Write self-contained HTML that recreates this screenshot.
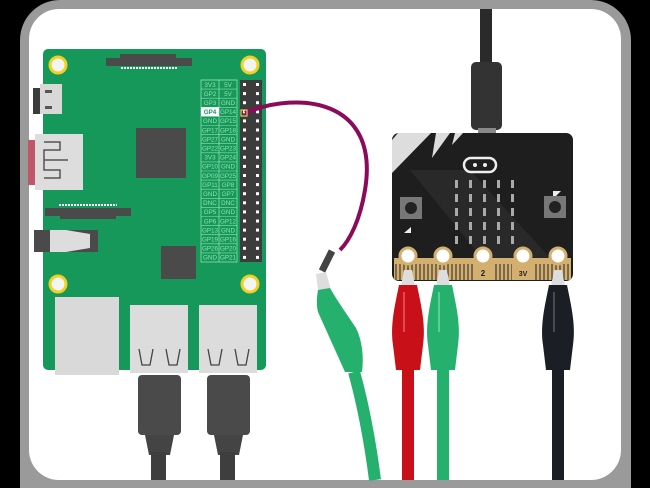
<!DOCTYPE html>
<html><head><style>html,body{margin:0;padding:0;background:#000;width:650px;height:488px;overflow:hidden}svg{display:block}</style></head>
<body>
<svg width="650" height="488" viewBox="0 0 650 488" xmlns="http://www.w3.org/2000/svg" font-family="Liberation Sans, sans-serif">
<rect width="650" height="488" fill="#000"/>
<rect x="20" y="0" width="611" height="488" rx="40" fill="#9a9a9a"/>
<rect x="20" y="440" width="611" height="48" fill="#9a9a9a"/>
<rect x="29" y="9" width="592" height="471" rx="30" fill="#fff"/>
<!-- board -->
<rect x="43" y="49" width="223" height="321" rx="5" fill="#16985a"/>
<!-- Pi side connectors -->
<rect x="33" y="88" width="12" height="26" fill="#3c3c3c"/>
<rect x="40" y="84" width="22" height="30" fill="#d8d8d8"/>
<rect x="45" y="90" width="7" height="3" fill="#555"/><rect x="45" y="106" width="7" height="3" fill="#555"/>
<rect x="28" y="140" width="12" height="45" fill="#c0566a"/>
<rect x="35" y="134" width="48" height="56" fill="#ddd"/>
<path d="M44 142h16v8h-16v10h24M44 160v10h16v8h-16" fill="none" stroke="#555" stroke-width="1.5"/>
<rect x="106" y="58" width="86" height="8" fill="#4a4a4a"/>
<rect x="120" y="54" width="56" height="4" fill="#4a4a4a"/>
<line x1="121" y1="68" x2="177" y2="68" stroke="#fff" stroke-width="2" stroke-dasharray="2 1"/>
<rect x="45" y="208" width="86" height="8" fill="#4a4a4a"/>
<rect x="60" y="215" width="56" height="4" fill="#4a4a4a"/>
<line x1="59" y1="205" x2="117" y2="205" stroke="#fff" stroke-width="2" stroke-dasharray="2 1"/>
<rect x="34" y="230" width="64" height="22" fill="#4a4a4a"/>
<path d="M50 230h16l24 4v14l-24 4h-16z" fill="#ddd"/>
<rect x="136" y="128" width="50" height="50" fill="#4a4a4a"/>
<rect x="161" y="246" width="35" height="33" fill="#4a4a4a"/>
<g fill="#f4f4f4" stroke="#f0d020" stroke-width="3">
<circle cx="58" cy="65" r="8"/><circle cx="250" cy="65" r="8"/><circle cx="58" cy="284" r="8"/><circle cx="250" cy="284" r="8"/></g>
<!-- header -->
<rect x="240" y="80" width="22" height="182" fill="#3c3c3c"/>
<g fill="#fff" id="pins"></g>
<rect x="201" y="80" width="36" height="182" fill="none" stroke="#8fe0b0" stroke-width="0.8"/>
<line x1="219" y1="80" x2="219" y2="262" stroke="#8fe0b0" stroke-width="0.8"/>
<g id="hdr" font-size="6.3" text-anchor="middle" fill="#8fe0b0"></g>
<!-- Pi USB / ethernet -->
<rect x="55" y="297" width="64" height="78" fill="#d9d9d9"/>
<rect x="130" y="305" width="58" height="68" fill="#dcdcdc"/>
<rect x="199" y="305" width="58" height="68" fill="#dcdcdc"/>
<path d="M139 349l3 16h8l3-16M166 349l3 16h8l3-16M208 349l3 16h8l3-16M235 349l3 16h8l3-16" fill="none" stroke="#444" stroke-width="1.3"/>
<rect x="138" y="375" width="43" height="60" rx="4" fill="#4a4a4a"/>
<rect x="207" y="375" width="43" height="60" rx="4" fill="#4a4a4a"/>
<path d="M145 435h29l-4 20h-21z M214 435h29l-4 20h-21z" fill="#444"/>
<rect x="151" y="452" width="15" height="28" fill="#3e3e3e"/>
<rect x="220" y="452" width="15" height="28" fill="#3e3e3e"/>
<!-- purple jumper -->
<path d="M245 113 C 300 90, 380 100, 365 190 C 360 220, 350 240, 340 250" fill="none" stroke="#8b0a5a" stroke-width="4"/>
<rect x="241" y="110" width="6" height="6" fill="none" stroke="#f0c060" stroke-width="1.2"/>
<!-- microbit usb cable -->
<rect x="480" y="9" width="12" height="56" fill="#2a2a2a"/>
<rect x="471" y="62" width="31" height="68" rx="5" fill="#333"/>
<rect x="478" y="128" width="18" height="6" fill="#888"/>
<!-- microbit -->
<rect x="392" y="133" width="181" height="148" rx="7" fill="#1e1e1e"/>
<path d="M398 133h33l-39 40v-33zM436 133h14l-18 25zM455 133h8l-11 12z" fill="#ddd"/>
<path d="M470 170h-60l90 110h70z" fill="#2c2c2c" opacity="0.8"/>
<rect x="464" y="158" width="32" height="14" rx="7" fill="none" stroke="#eee" stroke-width="2.5"/>
<circle cx="475" cy="165" r="2" fill="#eee"/><circle cx="485" cy="165" r="2" fill="#eee"/>
<g fill="#aaa" id="leds"></g>
<rect x="400" y="197" width="22" height="22" fill="#777"/><circle cx="411" cy="208" r="6" fill="#222"/>
<rect x="544" y="196" width="22" height="22" fill="#777"/><circle cx="555" cy="207" r="6" fill="#222"/>
<path d="M404 233l7-6v6z" fill="#eee"/><path d="M553 191h8l-5 5h-3z" fill="#eee"/>
<rect x="394" y="258" width="177" height="22" fill="#d4b070"/>
<g id="strip" stroke="#222" stroke-width="1"></g>
<g fill="#d4b070"><rect x="473" y="262" width="20" height="18"/><rect x="512" y="262" width="22" height="18"/></g>
<text x="483" y="276" font-size="8" font-weight="bold" text-anchor="middle" fill="#222">2</text>
<text x="523" y="276" font-size="7" font-weight="bold" text-anchor="middle" fill="#222">3V</text>
<g fill="#fff" stroke="#d4b070" stroke-width="3">
<circle cx="408" cy="256" r="8"/><circle cx="443" cy="256" r="8"/><circle cx="483" cy="256" r="8"/><circle cx="523" cy="256" r="8"/><circle cx="558" cy="256" r="8"/></g>
<!-- clips -->
<g id="clips"></g>
<!-- left angled green clip -->
<path d="M322 271l10-20" stroke="#444" stroke-width="7"/>
<path d="M316 274l10-2 5 18h-13z" fill="#ddd"/>
<path d="M318 290l12-2c8 14 18 28 26 40c6 12 8 28 6 44h-17l-27-60c-2-8-1-16 0-22z" fill="#25b06e"/>
<path d="M354 372 C 362 400, 370 440, 375 480" stroke="#25b06e" stroke-width="12" fill="none"/>
</svg>
<script>
const s="http://www.w3.org/2000/svg";
function el(p,t,a,txt){const e=document.createElementNS(s,t);for(const k in a)e.setAttribute(k,a[k]);if(txt)e.textContent=txt;document.getElementById(p).appendChild(e);return e;}
const L=[["3V3","5V"],["GP2","5V"],["GP3","GND"],["GP4","GP14"],["GND","GP15"],["GP17","GP18"],["GP27","GND"],["GP22","GP23"],["3V3","GP24"],["GP10","GND"],["GP09","GP25"],["GP11","GP8"],["GND","GP7"],["DNC","DNC"],["GP5","GND"],["GP6","GP12"],["GP13","GND"],["GP19","GP16"],["GP26","GP20"],["GND","GP21"]];
L.forEach((r,i)=>{const y=80+i*9.1;
 el("hdr","line",{x1:201,x2:237,y1:y,y2:y,stroke:"#8fe0b0","stroke-width":0.6});
 if(i==3)el("hdr","rect",{x:201,y:y,width:18,height:9.1,fill:"#fff"});
 el("hdr","text",{x:210,y:y+6.8,fill:i==3?"#16985a":"#8fe0b0","font-weight":i==3?"bold":"normal"},r[0]);
 el("hdr","text",{x:228,y:y+6.8},r[1]);
 el("pins","rect",{x:243,y:y+3,width:3,height:3});el("pins","rect",{x:256,y:y+3,width:3,height:3});
});
for(let c=0;c<5;c++)for(let r=0;r<5;r++)el("leds","rect",{x:455+c*14,y:180+r*14,width:3,height:8});
for(let x=396;x<571;x+=4)el("strip","line",{x1:x,x2:x,y1:264,y2:280});
function clip(x,col,hi){el("clips","path",{d:`M${x-4} 270h8l3 16h-14z`,fill:"#ddd"});
 el("clips","path",{d:`M${x-9} 285h18c4 20 9 40 6 60l-3 25h-24l-3-25c-3-20 2-40 6-60z`,fill:col});
 el("clips","rect",{x:x-6,y:368,width:12,height:112,fill:col});
 el("clips","rect",{x:x-5,y:292,width:2,height:40,fill:hi,opacity:0.5});}
clip(408,"#c81018","#ff8080");clip(443,"#25b06e","#90f0c0");clip(558,"#1c1e26","#777");
</script>
</body></html>
